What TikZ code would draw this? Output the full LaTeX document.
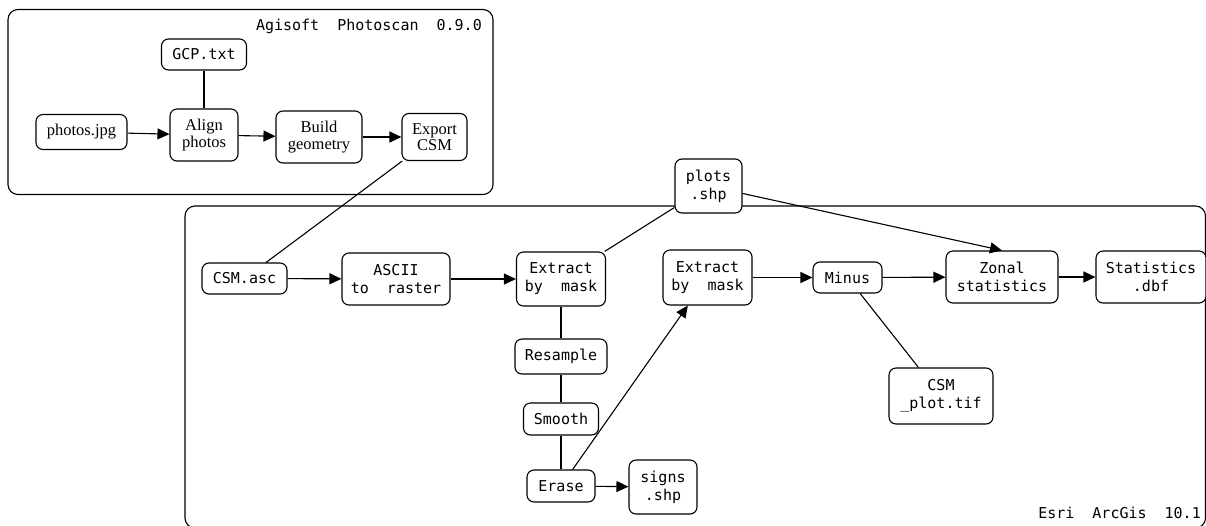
\documentclass[tikz,border=0pt]{standalone}
\usepackage{fontspec}
\usetikzlibrary{arrows.meta}
\newfontfamily\monof{DejaVu Sans Mono}
\newfontfamily\seriff{Liberation Serif}
\begin{document}
\begin{tikzpicture}[x=1pt,y=-1pt,
  box/.style={draw, rounded corners=7pt, fill=white, line width=1.1pt, inner sep=0pt, align=center},
  mono/.style={box, font=\monof\fontsize{15}{18}\selectfont},
  serif/.style={box, font=\seriff\fontsize{16.5}{16.5}\selectfont},
  lbl/.style={font=\monof\fontsize{15}{18}\selectfont, inner sep=0pt, anchor=east},
  arr/.style={-{Triangle[length=12pt,width=11pt]}, line width=1.1pt},
  ln/.style={line width=1.1pt},
  frame/.style={draw, rounded corners=10pt, line width=1.1pt}]
\clip (0,0) rectangle (1206,525);
% frames
\draw[frame] (8,9.5) rectangle (493,194.5);
\draw[frame] (185,206) rectangle (1205.5,528);
\node[lbl] (ttop) at (482,26) {Agisoft\ \ Photoscan\ \ 0.9.0};
\node[lbl] (tbot) at (1201,513) {Esri\ \ ArcGis\ \ 10.1};
% top nodes
\node[mono, minimum width=85pt, minimum height=31pt] (gcp) at (204,54.5) {GCP.txt};
\node[serif, minimum width=91pt, minimum height=35pt] (photos) at (81.5,132) {photos.jpg};
\node[serif, minimum width=68pt, minimum height=52pt] (align) at (204,135) {Align\\photos};
\node[serif, minimum width=86pt, minimum height=52pt] (build) at (319,137) {Build\\geometry};
\node[serif, minimum width=65pt, minimum height=47pt] (export) at (434.5,137) {Export\\CSM};
% lower nodes
\node[mono, minimum width=67pt, minimum height=54pt] (plots) at (708.5,186) {plots\\.shp};
\node[mono, minimum width=85pt, minimum height=31pt] (csmasc) at (244.5,278.5) {CSM.asc};
\node[mono, minimum width=108pt, minimum height=52pt] (ascii) at (396,279) {ASCII\\to\ \ raster};
\node[mono, minimum width=89pt, minimum height=54pt] (ext1) at (561,279) {Extract\\by\ \ mask};
\node[mono, minimum width=89pt, minimum height=55pt] (ext2) at (707.5,277.5) {Extract\\by\ \ mask};
\node[mono, minimum width=69pt, minimum height=31pt] (minus) at (847.5,277.5) {Minus};
\node[mono, minimum width=112pt, minimum height=52pt] (zonal) at (1002,277) {Zonal\\statistics};
\node[mono, minimum width=110pt, minimum height=52pt] (stats) at (1151,277) {Statistics\\.dbf};
\node[mono, minimum width=92pt, minimum height=35pt] (resample) at (561,356.5) {Resample};
\node[mono, minimum width=75pt, minimum height=32pt] (smooth) at (561,419) {Smooth};
\node[mono, minimum width=68pt, minimum height=32pt] (erase) at (561,486) {Erase};
\node[mono, minimum width=68pt, minimum height=54pt] (signs) at (663,487) {signs\\.shp};
\node[mono, minimum width=104pt, minimum height=56pt] (csmplot) at (941,396) {CSM\\\_plot.tif};
% connectors
\draw[arr] (photos) -- (align);
\draw[arr] (align) -- (build);
\draw[arr] (build) -- (export);
\draw[ln] (gcp) -- (align);
\draw[ln] (export) -- (csmasc);
\draw[arr] (csmasc) -- (ascii);
\draw[arr] (ascii) -- (ext1);
\draw[ln] (ext1) -- (plots);
\draw[arr] (plots) -- (zonal.north);
\draw[ln] (ext1) -- (resample);
\draw[ln] (resample) -- (smooth);
\draw[ln] (smooth) -- (erase);
\draw[arr] (erase) -- (ext2);
\draw[arr] (erase) -- (signs);
\draw[arr] (ext2) -- (minus);
\draw[arr] (minus) -- (zonal);
\draw[arr] (zonal) -- (stats);
\draw[ln] (minus) -- (csmplot);
\end{tikzpicture}
\end{document}
